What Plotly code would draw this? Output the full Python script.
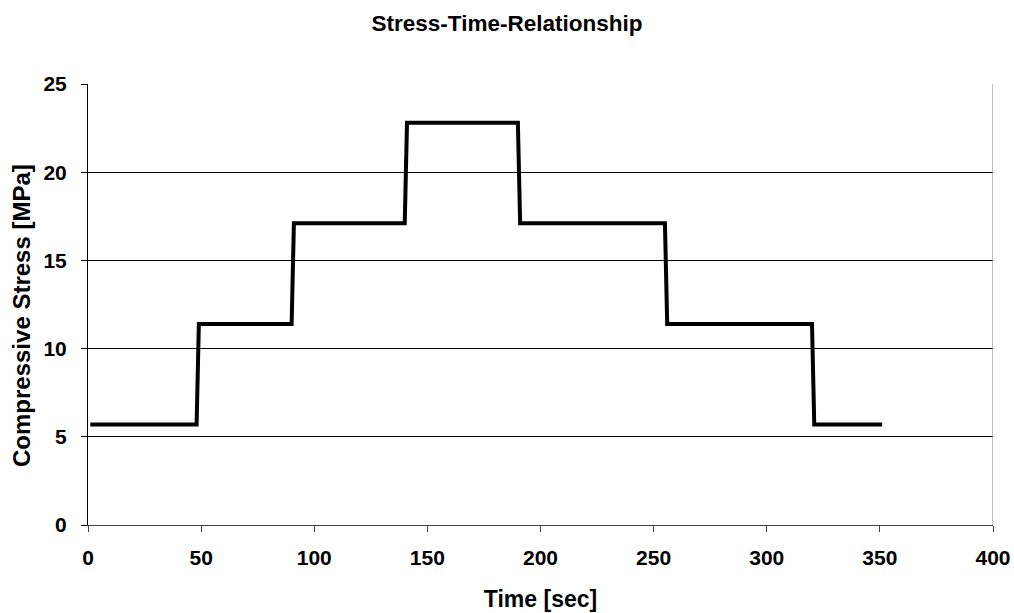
import plotly.graph_objects as go

time_sec = [1, 48, 49, 90, 91, 140, 141, 190, 191, 255, 256, 320, 321, 351]
stress_mpa = [5.7, 5.7, 11.4, 11.4, 17.1, 17.1, 22.8, 22.8, 17.1, 17.1, 11.4, 11.4, 5.7, 5.7]

x_ticks = [0, 50, 100, 150, 200, 250, 300, 350, 400]
y_ticks = [0, 5, 10, 15, 20, 25]

FONT = "Liberation Sans, Arial, sans-serif"

fig = go.Figure()
fig.add_trace(go.Scatter(
    x=time_sec, y=stress_mpa, mode="lines",
    line=dict(color="black", width=4), showlegend=False,
))

fig.add_shape(type="line", xref="x", yref="y", x0=400, x1=400, y0=0, y1=25,
              line=dict(color="#808080", width=1))

fig.add_annotation(
    text="Compressive Stress [MPa]", textangle=-90,
    xref="paper", x=0, xanchor="center", xshift=-67,
    yref="paper", y=(525 - 316) / 441, yanchor="middle",
    showarrow=False,
    font=dict(family=FONT, size=24, color="black", weight="bold"),
)

fig.update_layout(
    width=1014, height=613,
    margin=dict(l=88, r=21, t=84, b=88),
    paper_bgcolor="white", plot_bgcolor="white",
    title=dict(text="Stress-Time-Relationship", x=0.5, xref="container", xanchor="center",
               y=1 - 23 / 613, yref="container", yanchor="middle", automargin=False,
               font=dict(family=FONT, size=22.5, color="black", weight="bold")),
    xaxis=dict(
        range=[0, 400], tickvals=x_ticks, ticktext=[str(v) for v in x_ticks],
        showgrid=False, zeroline=False, automargin=False,
        showline=True, linecolor="#404040", linewidth=1,
        ticks="outside", ticklen=6, tickcolor="#404040",
        ticklabelstandoff=8,
        tickfont=dict(family=FONT, size=21, color="black", weight="bold"),
        title=dict(text="Time [sec]", standoff=22,
                   font=dict(family=FONT, size=23, color="black", weight="bold")),
    ),
    yaxis=dict(
        range=[0, 25], tickvals=y_ticks, ticktext=[str(v) for v in y_ticks],
        showgrid=True, gridcolor="black", gridwidth=1, zeroline=False, automargin=False,
        showline=True, linecolor="black", linewidth=1,
        ticks="outside", ticklen=6, tickcolor="black",
        ticklabelstandoff=10,
        tickfont=dict(family=FONT, size=21, color="black", weight="bold"),
    ),
)

fig.write_html("out.html")
